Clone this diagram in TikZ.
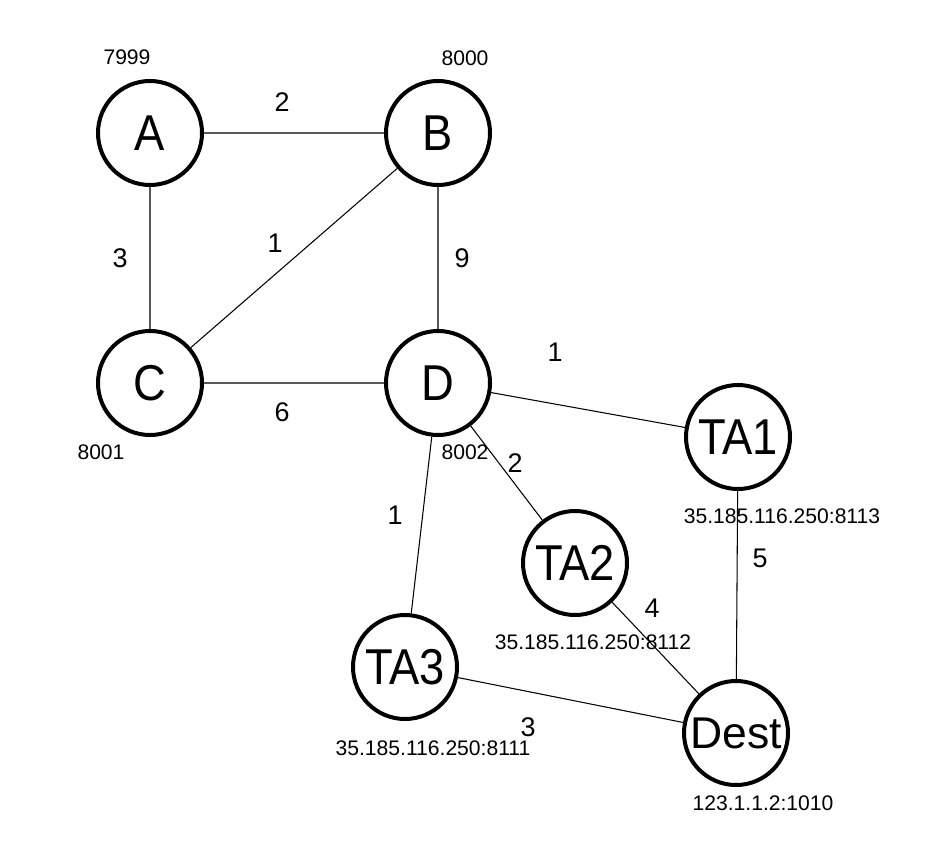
\documentclass[tikz,border=0pt]{standalone}
\usepackage{fontspec}
\setmainfont{Liberation Sans}
\newfontfamily\hostfont[FakeStretch=0.9]{Liberation Sans}
\begin{document}
\begin{tikzpicture}[x=0.03cm,y=-0.03cm,
	host/.style={circle,draw,line width=0.12cm,minimum size=3.12cm,inner sep=0pt,font=\hostfont\fontsize{43}{43}\selectfont},
	addr/.style={font=\fontsize{18}{18}\selectfont},
	weight/.style={font=\fontsize{23}{23}\selectfont}]
	\useasboundingbox (0,0) rectangle (934,848);
	% routers and hosts
	\node[host] (A) at (150,133) {A};
	\node[host] (B) at (438,133) {B};
	\node[host] (C) at (150,383) {C};
	\node[host] (D) at (438,383) {D};
	\node[host] (TA1) at (738,437) {TA1};
	\node[host] (TA2) at (575,563) {TA2};
	\node[host] (TA3) at (405,667) {TA3};
	\node[host,font=\fontsize{38}{38}\selectfont] (Dest) at (736,733) {Dest};
	% links
	\draw[line width=0.9pt] (A)--(B) (A)--(C) (B)--(C) (B)--(D) (C)--(D)
		(D)--(TA1) (D)--(TA2) (D)--(TA3)
		(TA1)--(Dest) (TA2)--(Dest) (TA3)--(Dest);
	% ports
	\node[addr] (pA) at (127,57) {7999};
	\node[addr] (pB) at (465,58) {8000};
	\node[addr] (pC) at (101,452) {8001};
	\node[addr] (pD) at (465,452) {8002};
	\node[addr] (pTA1) at (782,516) {35.185.116.250:8113};
	\node[addr] (pTA2) at (593,642) {35.185.116.250:8112};
	\node[addr] (pTA3) at (433,748) {35.185.116.250:8111};
	\node[addr] (pDest) at (763,803) {123.1.1.2:1010};
	% costs
	\node[weight] (wAB) at (282,102) {2};
	\node[weight] (wAC) at (120,258) {3};
	\node[weight] (wBC) at (275,243) {1};
	\node[weight] (wBD) at (462,258) {9};
	\node[weight] (wCD) at (282,412) {6};
	\node[weight] (wD1) at (555,352) {1};
	\node[weight] (wD2) at (515,463) {2};
	\node[weight] (wD3) at (395,515) {1};
	\node[weight] (w1E) at (760,558) {5};
	\node[weight] (w2E) at (652,608) {4};
	\node[weight] (w3E) at (528,727) {3};
\end{tikzpicture}
\end{document}
